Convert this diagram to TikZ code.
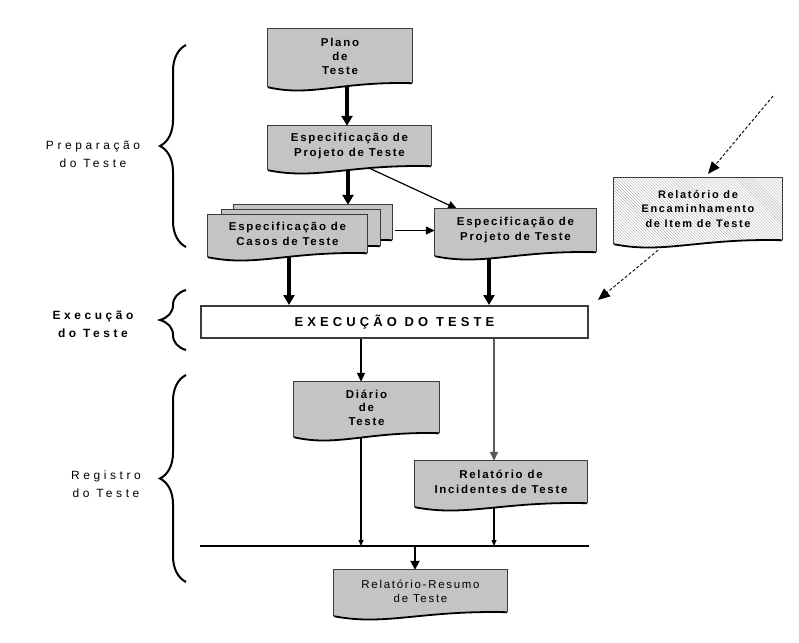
\documentclass[tikz,border=0pt]{standalone}
\usepackage{fontspec}
\setmainfont{Liberation Sans}
\newfontfamily\boxfont{Liberation Sans}[LetterSpace=15]
\newfontfamily\execfont{Liberation Sans}[LetterSpace=32]
\newfontfamily\labfont{Liberation Sans}[LetterSpace=30]
\usetikzlibrary{calc,arrows.meta,decorations.pathreplacing,patterns}
\pgfdeclarelayer{bg}
\pgfdeclarelayer{shapes}
\pgfsetlayers{bg,shapes,main}
\definecolor{docgray}{RGB}{196,196,196}
\definecolor{edgegray}{RGB}{60,60,60}
\definecolor{linegray}{RGB}{90,90,90}

\tikzset{
  doc/.style={inner sep=0pt, align=center,
    font=\boxfont\bfseries\fontsize{11.5}{15}\selectfont},
  docfill/.style={fill=docgray},
  hatchfill/.style={fill=white, postaction={pattern=north west lines, pattern color=black!30}},
  lab/.style={inner sep=0pt, align=center, font=\labfont\fontsize{12}{18}\selectfont},
  thickarr/.style={line width=3.5bp, -{Triangle[length=10bp,width=11bp]}},
  thinarr/.style={line width=1.2bp, -{Triangle[length=9bp,width=8bp]}},
  busarr/.style={line width=1.2bp, -{Triangle[length=6bp,width=5bp]}},
  medarr/.style={line width=2bp, -{Triangle[length=9bp,width=9bp]}},
  dasharr/.style={line width=0.9bp, dash pattern=on 3bp off 2bp, -{Triangle[length=12bp,width=10bp]}},
  bracestyle/.style={line width=2bp, decorate, decoration={brace, amplitude=26bp}},
}

% document symbol: flat top, wavy bottom edge
\newcommand\docshape[2][docfill]{%
  \begin{pgfonlayer}{shapes}
    \path[#1] (#2.north west) -- (#2.north east) -- (#2.south east)
      .. controls ($(#2.south west)!0.5!(#2.south east)+(0,-2)$)
             and ($(#2.south west)!0.3!(#2.south east)+(0,14)$)
      .. ($(#2.south west)+(0,4)$) -- cycle;
    \draw[edgegray, line width=1.2bp] (#2.south east) -- (#2.north east)
      -- (#2.north west) -- ($(#2.south west)+(0,4)$);
    \draw[black, line width=1.8bp] (#2.south east)
      .. controls ($(#2.south west)!0.5!(#2.south east)+(0,-2)$)
             and ($(#2.south west)!0.3!(#2.south east)+(0,14)$)
      .. ($(#2.south west)+(0,4)$);
  \end{pgfonlayer}}

\begin{document}
\begin{tikzpicture}[x=1bp, y=-1bp]
\useasboundingbox (0,0) rectangle (799,643);

% ---- documents ----
\node[doc, minimum width=144bp, minimum height=54bp,
      font=\boxfont\bfseries\fontsize{11.5}{14}\selectfont] (plano) at (340,56) {Plano\\de\\Teste};
\node[doc, minimum width=163bp, minimum height=40bp] (espec1) at (349.5,146) {Especificação de\\Projeto de Teste};
\node[doc, minimum width=158bp, minimum height=35bp] (back2) at (313,222.5) {};
\node[doc, minimum width=158bp, minimum height=36bp] (back1) at (301,228) {};
\node[doc, minimum width=159bp, minimum height=38bp] (front) at (287.5,234) {Especificação de\\Casos de Teste};
\node[doc, minimum width=161bp, minimum height=43bp] (espec2) at (515.5,230.5) {Especificação de\\Projeto de Teste};
\node[doc, minimum width=168bp, minimum height=62bp,
      font=\boxfont\bfseries\fontsize{11}{14.5}\selectfont] (relenc) at (698,209) {Relatório de\\Encaminhamento\\de Item de Teste};
\node[doc, minimum width=145bp, minimum height=51bp,
      font=\boxfont\bfseries\fontsize{11.5}{13.5}\selectfont] (diario) at (366.5,407.5) {Diário\\de\\Teste};
\node[doc, minimum width=172bp, minimum height=42bp] (incid) at (501,482) {Relatório de\\Incidentes de Teste};
\node[doc, minimum width=173bp, minimum height=42bp,
      font=\boxfont\fontsize{11.5}{14}\selectfont] (resumo) at (420.5,591) {Relatório-Resumo\\de Teste};

\node[draw=edgegray, line width=2bp, fill=white, inner sep=0pt,
      minimum width=387bp, minimum height=32bp,
      font=\execfont\bfseries\fontsize{13}{15}\selectfont] (exec) at (394.5,322) {EXECUÇÃO DO TESTE};

\docshape{plano}
\docshape{espec1}
\docshape{back2}
\docshape{back1}
\docshape{front}
\docshape{espec2}
\docshape[hatchfill]{relenc}
\docshape{diario}
\docshape{incid}
\docshape{resumo}

% ---- phase labels and braces ----
\node[lab] (prep) at (93,154) {Preparação\\do Teste};
\node[lab, font=\labfont\bfseries\fontsize{12}{18}\selectfont] (execlab) at (93,324) {Execução\\do Teste};
\node[lab] (reglab) at (106,484) {Registro\\do Teste};
\draw[bracestyle] (186,247) -- (186,45);
\draw[bracestyle] (186,350) -- (186,290);
\draw[bracestyle] (186,582) -- (186,375);

% ---- connector columns ----
\coordinate (xA) at (347,0);
\coordinate (xB) at (348,0);
\coordinate (xC) at (365,0);
\coordinate (xD) at (457,0);
\coordinate (xE) at (289,0);
\coordinate (xF) at (489,0);
\coordinate (xG) at (361,0);
\coordinate (xH) at (494,0);
\coordinate (xI) at (415,0);
\coordinate (busL) at (200,546);
\coordinate (busR) at (589,546);
\coordinate (feed) at (773,96);

\begin{pgfonlayer}{bg}
\draw[thickarr] (plano.south -| xA) -- (espec1.north -| xA);
\draw[thickarr] (espec1.south -| xB) -- (back2.north -| xB);
\draw[thinarr] (espec1.south -| xC) -- (espec2.north -| xD);
\draw[thinarr, shorten <=3bp] (back2.east |- espec2.west) -- (espec2.west);
\draw[thickarr] (front.south -| xE) -- (exec.north -| xE);
\draw[thickarr] (espec2.south -| xF) -- (exec.north -| xF);
\draw[dasharr] (feed) -- ($(relenc.north)+(10,-4)$);
\draw[dasharr] ($(relenc.south)+(-40,10)$) -- ($(exec.north east)+(9,-5)$);
\draw[thinarr] (exec.south -| xG) -- (diario.north -| xG);
\draw[thinarr, linegray, line width=1.5bp] (exec.south -| xH) -- (incid.north -| xH);
\draw[busarr] (diario.south -| xG) -- (busL -| xG);
\draw[busarr] (incid.south -| xH) -- (busL -| xH);
\draw[line width=1.2bp] (busL) -- (busR);
\draw[medarr] (busL -| xI) -- (resumo.north -| xI);
\end{pgfonlayer}
\end{tikzpicture}
\end{document}
